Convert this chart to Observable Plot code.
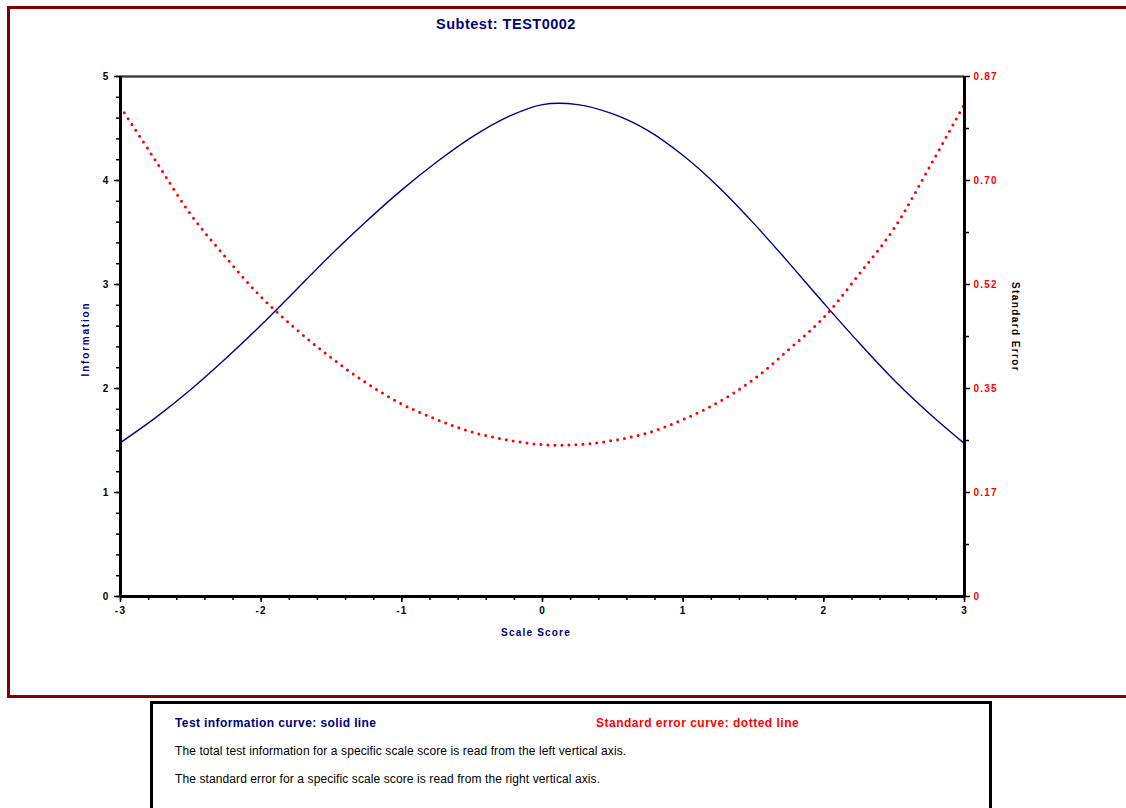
<!DOCTYPE html>
<html>
<head>
<meta charset="utf-8">
<script src="https://cdn.jsdelivr.net/npm/d3@7"></script>
<script src="https://cdn.jsdelivr.net/npm/@observablehq/plot@0.6"></script>
<style>
  body { margin: 0; background: #fff; overflow: hidden; }
  #wrap { position: relative; width: 1126px; height: 808px; font-family: "Liberation Sans", Arial, sans-serif; }
  .abs { position: absolute; white-space: nowrap; line-height: 1; }
</style>
</head>
<body>
<div id="wrap">
  <div id="chart" class="abs" style="left:0;top:0"></div>
  <div class="abs" style="left:7px;top:6px;width:1130px;height:686px;border:3px solid #800000;"></div>
  <div class="abs" style="left:506px;top:24px;transform:translate(-50%,-50%);color:#000080;font-weight:bold;font-size:14.5px;letter-spacing:0.5px">Subtest: TEST0002</div>
  <div class="abs" style="left:536px;top:633px;transform:translate(-50%,-50%);color:#000080;font-weight:bold;font-size:10px;letter-spacing:1.2px">Scale Score</div>
  <div class="abs" style="left:86px;top:339px;transform:translate(-50%,-50%) rotate(-90deg);color:#000080;font-weight:bold;font-size:10px;letter-spacing:1.8px">Information</div>
  <div class="abs" style="left:1015px;top:327px;transform:translate(-50%,-50%) rotate(90deg);color:#000;font-weight:bold;font-size:10px;letter-spacing:1.4px">Standard Error</div>
  <div class="abs" style="left:150px;top:701px;width:836px;height:120px;border:3px solid #000;"></div>
  <div class="abs" style="left:175px;top:723px;transform:translateY(-50%);color:#000080;font-weight:bold;font-size:12px;letter-spacing:0.4px">Test information curve: solid line</div>
  <div class="abs" style="left:596px;top:723px;transform:translateY(-50%);color:#ff0000;font-weight:bold;font-size:12px;letter-spacing:0.5px">Standard error curve: dotted line</div>
  <div class="abs" style="left:175px;top:751px;transform:translateY(-50%);color:#000;font-size:12px;letter-spacing:0.1px">The total test information for a specific scale score is read from the left vertical axis.</div>
  <div class="abs" style="left:175px;top:779px;transform:translateY(-50%);color:#000;font-size:12px;letter-spacing:0.1px">The standard error for a specific scale score is read from the right vertical axis.</div>
</div>
<script>
// ---- data ----
const theta = [-3, -2.75, -2.5, -2.25, -2, -1.75, -1.5, -1.25, -1, -0.75, -0.5, -0.25, 0,
               0.25, 0.5, 0.75, 1, 1.25, 1.5, 1.75, 2, 2.25, 2.5, 2.75, 3];
const information = [1.48, 1.72, 1.99, 2.29, 2.61, 2.95, 3.29, 3.61, 3.91, 4.18, 4.42, 4.61, 4.73,
                     4.73, 4.64, 4.48, 4.24, 3.94, 3.59, 3.21, 2.82, 2.44, 2.08, 1.76, 1.47];
const standardError = [0.819, 0.729, 0.639, 0.567, 0.501, 0.447, 0.399, 0.357, 0.322, 0.296, 0.275, 0.262, 0.254,
                       0.254, 0.261, 0.274, 0.296, 0.325, 0.363, 0.413, 0.467, 0.539, 0.616, 0.718, 0.824];
const xTicks = [-3, -2, -1, 0, 1, 2, 3];
const leftTicks = [0, 1, 2, 3, 4, 5];
const rightTickLabels = ["0", "0.17", "0.35", "0.52", "0.70", "0.87"];
const infoMax = 5;
const seMax = 0.87;

const rows = theta.map((t, i) => ({theta: t, info: information[i], se: standardError[i]}));
const xMinor = d3.range(-30, 31, 2).map(v => v / 10);
const yMinor = d3.range(0, 51, 2).map(v => v / 10);
const rightMajor = leftTicks;
const rightMinor = [0.5, 1.5, 2.5, 3.5, 4.5];

const chart = Plot.plot({
  width: 1126,
  height: 680,
  marginTop: 76,
  marginBottom: 84,
  marginLeft: 120,
  marginRight: 162,
  x: {domain: [-3, 3], axis: null},
  y: {domain: [0, infoMax], axis: null},
  style: {
    fontFamily: "'Liberation Sans', Arial, sans-serif",
    fontSize: "10px",
    fontWeight: "bold",
    letterSpacing: "1.2px",
    background: "transparent",
    color: "#000",
    overflow: "visible"
  },
  marks: [
    Plot.ruleY([infoMax], {stroke: "#444", strokeWidth: 2.5}),
    Plot.line(rows, {x: "theta", y: "info", stroke: "#000080", strokeWidth: 1.4, curve: "catmull-rom"}),
    Plot.line(rows, {x: "theta", y: d => d.se * infoMax / seMax, stroke: "#ff0000", strokeWidth: 3,
                     strokeDasharray: "0,7", strokeLinecap: "round", curve: "catmull-rom"}),
    Plot.ruleX([-3], {stroke: "#000", strokeWidth: 3}),
    Plot.ruleX([3], {stroke: "#000", strokeWidth: 3}),
    Plot.ruleY([0], {stroke: "#000", strokeWidth: 3}),
    Plot.axisX({anchor: "bottom", ticks: xMinor, tickSize: 4, strokeWidth: 1.5, stroke: "#000", fill: "none", label: null}),
    Plot.axisX({anchor: "bottom", ticks: xTicks, tickSize: 6, tickPadding: 4, strokeWidth: 1.5, stroke: "#000", fill: "#000",
                tickFormat: d => String(d), label: null}),
    Plot.axisY({anchor: "left", ticks: yMinor, tickSize: 4, strokeWidth: 1.5, stroke: "#000", fill: "none", label: null}),
    Plot.axisY({anchor: "left", ticks: leftTicks, tickSize: 6, tickPadding: 5, strokeWidth: 1.5, stroke: "#000", fill: "#000",
                tickFormat: d => String(d), label: null}),
    Plot.axisY({anchor: "right", ticks: rightMinor, tickSize: 4, strokeWidth: 1.5, stroke: "#000", fill: "none", label: null}),
    Plot.axisY({anchor: "right", ticks: rightMajor, tickSize: 5, tickPadding: 4, strokeWidth: 1.5, stroke: "#000", fill: "#ff0000",
                tickFormat: d => rightTickLabels[rightMajor.indexOf(d)], label: null})
  ]
});
document.getElementById("chart").appendChild(chart);
</script>
</body>
</html>
